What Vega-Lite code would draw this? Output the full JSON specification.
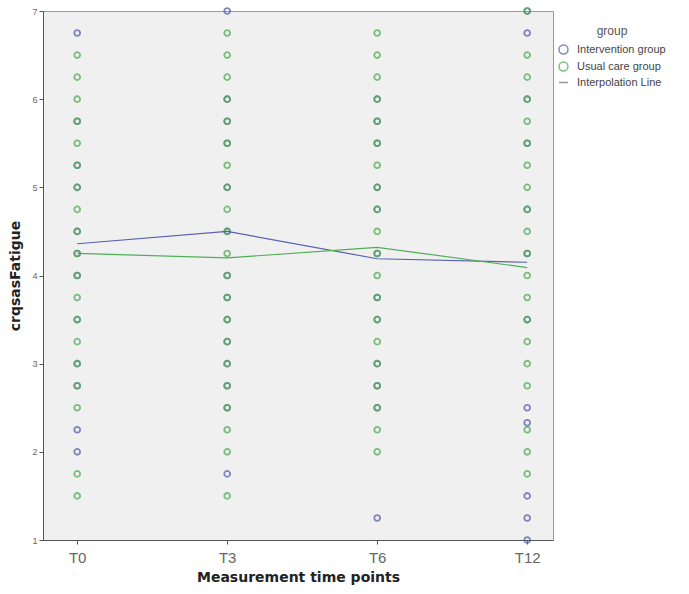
{
  "$schema": "https://vega.github.io/schema/vega-lite/v6.json",
  "width": 510,
  "height": 529,
  "autosize": {"type": "none"},
  "padding": {"left": 43, "top": 11, "right": 136, "bottom": 54},
  "background": "white",
  "config": {
    "font": "Liberation Sans",
    "view": {"fill": "#f0f0f0", "stroke": "#9a9a9a", "strokeWidth": 1}
  },
  "datasets": {
    "pts": [
      {"time": "T0", "group": "Intervention group", "score": 6.75},
      {"time": "T0", "group": "Intervention group", "score": 5.75},
      {"time": "T0", "group": "Intervention group", "score": 5.25},
      {"time": "T0", "group": "Intervention group", "score": 5.0},
      {"time": "T0", "group": "Intervention group", "score": 4.5},
      {"time": "T0", "group": "Intervention group", "score": 4.25},
      {"time": "T0", "group": "Intervention group", "score": 4.0},
      {"time": "T0", "group": "Intervention group", "score": 3.5},
      {"time": "T0", "group": "Intervention group", "score": 3.0},
      {"time": "T0", "group": "Intervention group", "score": 2.75},
      {"time": "T0", "group": "Intervention group", "score": 2.25},
      {"time": "T0", "group": "Intervention group", "score": 2.0},
      {"time": "T3", "group": "Intervention group", "score": 7.0},
      {"time": "T3", "group": "Intervention group", "score": 6.0},
      {"time": "T3", "group": "Intervention group", "score": 5.75},
      {"time": "T3", "group": "Intervention group", "score": 5.5},
      {"time": "T3", "group": "Intervention group", "score": 5.0},
      {"time": "T3", "group": "Intervention group", "score": 4.5},
      {"time": "T3", "group": "Intervention group", "score": 4.0},
      {"time": "T3", "group": "Intervention group", "score": 3.75},
      {"time": "T3", "group": "Intervention group", "score": 3.5},
      {"time": "T3", "group": "Intervention group", "score": 3.25},
      {"time": "T3", "group": "Intervention group", "score": 3.0},
      {"time": "T3", "group": "Intervention group", "score": 2.75},
      {"time": "T3", "group": "Intervention group", "score": 2.5},
      {"time": "T3", "group": "Intervention group", "score": 1.75},
      {"time": "T6", "group": "Intervention group", "score": 6.0},
      {"time": "T6", "group": "Intervention group", "score": 5.75},
      {"time": "T6", "group": "Intervention group", "score": 5.5},
      {"time": "T6", "group": "Intervention group", "score": 5.0},
      {"time": "T6", "group": "Intervention group", "score": 4.75},
      {"time": "T6", "group": "Intervention group", "score": 4.25},
      {"time": "T6", "group": "Intervention group", "score": 3.75},
      {"time": "T6", "group": "Intervention group", "score": 3.5},
      {"time": "T6", "group": "Intervention group", "score": 3.0},
      {"time": "T6", "group": "Intervention group", "score": 2.75},
      {"time": "T6", "group": "Intervention group", "score": 2.5},
      {"time": "T6", "group": "Intervention group", "score": 1.25},
      {"time": "T12", "group": "Intervention group", "score": 7.0},
      {"time": "T12", "group": "Intervention group", "score": 6.75},
      {"time": "T12", "group": "Intervention group", "score": 6.0},
      {"time": "T12", "group": "Intervention group", "score": 5.5},
      {"time": "T12", "group": "Intervention group", "score": 4.75},
      {"time": "T12", "group": "Intervention group", "score": 4.25},
      {"time": "T12", "group": "Intervention group", "score": 3.5},
      {"time": "T12", "group": "Intervention group", "score": 2.5},
      {"time": "T12", "group": "Intervention group", "score": 2.33},
      {"time": "T12", "group": "Intervention group", "score": 1.5},
      {"time": "T12", "group": "Intervention group", "score": 1.25},
      {"time": "T12", "group": "Intervention group", "score": 1.0},

      {"time": "T0", "group": "Usual care group", "score": 6.5},
      {"time": "T0", "group": "Usual care group", "score": 6.25},
      {"time": "T0", "group": "Usual care group", "score": 6.0},
      {"time": "T0", "group": "Usual care group", "score": 5.75},
      {"time": "T0", "group": "Usual care group", "score": 5.5},
      {"time": "T0", "group": "Usual care group", "score": 5.25},
      {"time": "T0", "group": "Usual care group", "score": 5.0},
      {"time": "T0", "group": "Usual care group", "score": 4.75},
      {"time": "T0", "group": "Usual care group", "score": 4.5},
      {"time": "T0", "group": "Usual care group", "score": 4.25},
      {"time": "T0", "group": "Usual care group", "score": 4.0},
      {"time": "T0", "group": "Usual care group", "score": 3.75},
      {"time": "T0", "group": "Usual care group", "score": 3.5},
      {"time": "T0", "group": "Usual care group", "score": 3.25},
      {"time": "T0", "group": "Usual care group", "score": 3.0},
      {"time": "T0", "group": "Usual care group", "score": 2.75},
      {"time": "T0", "group": "Usual care group", "score": 2.5},
      {"time": "T0", "group": "Usual care group", "score": 1.75},
      {"time": "T0", "group": "Usual care group", "score": 1.5},
      {"time": "T3", "group": "Usual care group", "score": 6.75},
      {"time": "T3", "group": "Usual care group", "score": 6.5},
      {"time": "T3", "group": "Usual care group", "score": 6.25},
      {"time": "T3", "group": "Usual care group", "score": 6.0},
      {"time": "T3", "group": "Usual care group", "score": 5.75},
      {"time": "T3", "group": "Usual care group", "score": 5.5},
      {"time": "T3", "group": "Usual care group", "score": 5.25},
      {"time": "T3", "group": "Usual care group", "score": 5.0},
      {"time": "T3", "group": "Usual care group", "score": 4.75},
      {"time": "T3", "group": "Usual care group", "score": 4.5},
      {"time": "T3", "group": "Usual care group", "score": 4.25},
      {"time": "T3", "group": "Usual care group", "score": 4.0},
      {"time": "T3", "group": "Usual care group", "score": 3.75},
      {"time": "T3", "group": "Usual care group", "score": 3.5},
      {"time": "T3", "group": "Usual care group", "score": 3.25},
      {"time": "T3", "group": "Usual care group", "score": 3.0},
      {"time": "T3", "group": "Usual care group", "score": 2.75},
      {"time": "T3", "group": "Usual care group", "score": 2.5},
      {"time": "T3", "group": "Usual care group", "score": 2.25},
      {"time": "T3", "group": "Usual care group", "score": 2.0},
      {"time": "T3", "group": "Usual care group", "score": 1.5},
      {"time": "T6", "group": "Usual care group", "score": 6.75},
      {"time": "T6", "group": "Usual care group", "score": 6.5},
      {"time": "T6", "group": "Usual care group", "score": 6.25},
      {"time": "T6", "group": "Usual care group", "score": 6.0},
      {"time": "T6", "group": "Usual care group", "score": 5.75},
      {"time": "T6", "group": "Usual care group", "score": 5.5},
      {"time": "T6", "group": "Usual care group", "score": 5.25},
      {"time": "T6", "group": "Usual care group", "score": 5.0},
      {"time": "T6", "group": "Usual care group", "score": 4.75},
      {"time": "T6", "group": "Usual care group", "score": 4.5},
      {"time": "T6", "group": "Usual care group", "score": 4.25},
      {"time": "T6", "group": "Usual care group", "score": 4.0},
      {"time": "T6", "group": "Usual care group", "score": 3.75},
      {"time": "T6", "group": "Usual care group", "score": 3.5},
      {"time": "T6", "group": "Usual care group", "score": 3.25},
      {"time": "T6", "group": "Usual care group", "score": 3.0},
      {"time": "T6", "group": "Usual care group", "score": 2.75},
      {"time": "T6", "group": "Usual care group", "score": 2.5},
      {"time": "T6", "group": "Usual care group", "score": 2.25},
      {"time": "T6", "group": "Usual care group", "score": 2.0},
      {"time": "T12", "group": "Usual care group", "score": 7.0},
      {"time": "T12", "group": "Usual care group", "score": 6.5},
      {"time": "T12", "group": "Usual care group", "score": 6.25},
      {"time": "T12", "group": "Usual care group", "score": 6.0},
      {"time": "T12", "group": "Usual care group", "score": 5.75},
      {"time": "T12", "group": "Usual care group", "score": 5.5},
      {"time": "T12", "group": "Usual care group", "score": 5.25},
      {"time": "T12", "group": "Usual care group", "score": 5.0},
      {"time": "T12", "group": "Usual care group", "score": 4.75},
      {"time": "T12", "group": "Usual care group", "score": 4.5},
      {"time": "T12", "group": "Usual care group", "score": 4.25},
      {"time": "T12", "group": "Usual care group", "score": 4.0},
      {"time": "T12", "group": "Usual care group", "score": 3.75},
      {"time": "T12", "group": "Usual care group", "score": 3.5},
      {"time": "T12", "group": "Usual care group", "score": 3.25},
      {"time": "T12", "group": "Usual care group", "score": 3.0},
      {"time": "T12", "group": "Usual care group", "score": 2.75},
      {"time": "T12", "group": "Usual care group", "score": 2.25},
      {"time": "T12", "group": "Usual care group", "score": 2.0},
      {"time": "T12", "group": "Usual care group", "score": 1.75}
    ],
    "means": [
      {"time": "T0", "group": "Intervention group", "score": 4.36},
      {"time": "T3", "group": "Intervention group", "score": 4.5},
      {"time": "T6", "group": "Intervention group", "score": 4.19},
      {"time": "T12", "group": "Intervention group", "score": 4.15},
      {"time": "T0", "group": "Usual care group", "score": 4.25},
      {"time": "T3", "group": "Usual care group", "score": 4.2},
      {"time": "T6", "group": "Usual care group", "score": 4.32},
      {"time": "T12", "group": "Usual care group", "score": 4.09}
    ]
  },
  "encoding": {
    "x": {
      "field": "time", "type": "ordinal",
      "sort": ["T0", "T3", "T6", "T12"],
      "scale": {"type": "point", "padding": 0.2, "align": 0.57},
      "axis": {
        "title": "Measurement time points",
        "titleFont": "DejaVu Sans", "titleFontSize": 14, "titleFontWeight": "bold", "titleColor": "#222",
        "titlePadding": 5,
        "labelFontSize": 15, "labelColor": "#666", "labelAngle": 0, "labelPadding": 6,
        "tickColor": "#555", "tickSize": 4, "domainColor": "#555", "grid": false
      }
    },
    "y": {
      "field": "score", "type": "quantitative",
      "scale": {"domain": [1, 7], "nice": false, "zero": false},
      "axis": {
        "title": "crqsasFatigue",
        "titleFont": "DejaVu Sans", "titleFontSize": 14, "titleFontWeight": "bold", "titleColor": "#222",
        "titlePadding": 9,
        "values": [1, 2, 3, 4, 5, 6, 7], "format": "d",
        "labelFontSize": 9, "labelColor": "#666", "labelPadding": 2,
        "tickColor": "#555", "tickSize": 4, "domainColor": "#555", "grid": false
      }
    }
  },
  "layer": [
    {
      "data": {"name": "pts"},
      "mark": {"type": "point", "filled": false, "size": 34, "strokeWidth": 1.8, "opacity": 0.75},
      "encoding": {
        "color": {
          "field": "group", "type": "nominal",
          "scale": {
            "domain": ["Intervention group", "Usual care group", "Interpolation Line"],
            "range": ["#5a5fb0", "#4fae55", "#777777"]
          },
          "legend": {
            "title": "group", "orient": "none", "legendX": 515, "legendY": 15,
            "titleFontSize": 12, "titleFontWeight": "normal", "titleColor": "#555", "titleAnchor": "middle",
            "labelFontSize": 11, "labelColor": "#444", "labelOffset": 8, "symbolSize": 80, "symbolStrokeWidth": 1.5,
            "rowPadding": 2, "titlePadding": 6
          }
        },
        "shape": {
          "field": "group", "type": "nominal",
          "scale": {
            "domain": ["Intervention group", "Usual care group", "Interpolation Line"],
            "range": ["circle", "circle", "stroke"]
          },
          "legend": {
            "title": "group", "orient": "none", "legendX": 515, "legendY": 15,
            "titleFontSize": 12, "titleFontWeight": "normal", "titleColor": "#555", "titleAnchor": "middle",
            "labelFontSize": 11, "labelColor": "#444", "labelOffset": 8, "symbolSize": 80, "symbolStrokeWidth": 1.5,
            "rowPadding": 2, "titlePadding": 6
          }
        }
      }
    },
    {
      "data": {"name": "means"},
      "mark": {"type": "line", "strokeWidth": 1.2},
      "encoding": {
        "color": {"field": "group", "type": "nominal"},
        "detail": {"field": "group"}
      }
    }
  ]
}
